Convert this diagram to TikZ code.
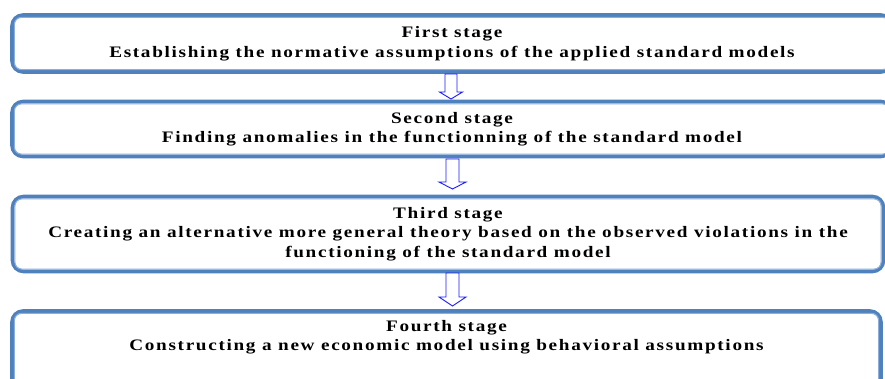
\documentclass[tikz,border=0pt]{standalone}
\usepackage{fontspec}
\setmainfont{Liberation Serif}[LetterSpace=10.5,FakeStretch=1.2]
\usetikzlibrary{calc}
\definecolor{boxblue}{HTML}{4F81BD}
\definecolor{boxlight}{HTML}{8DAEDB}
\definecolor{arrblue}{HTML}{1A1AFF}
\tikzset{
  stagebox/.style={draw=boxblue, line width=3.6pt, rounded corners=11pt, fill=white,
    align=center, font=\fontsize{16}{19.5}\selectfont\bfseries, inner sep=0pt},
  innerline/.style={draw=boxlight, line width=1.1pt, rounded corners=7pt},
  hollow/.style={draw=arrblue, line width=0.9pt, fill=white, line join=miter},
}
\newcommand\hollowarrow[6]{%
  \draw[hollow] ({#1-#4},#2) -- ({#1+#4},#2) -- ({#1+#4},{#3-#6}) -- ({#1+#5},{#3-#6})
    -- (#1,#3) -- ({#1-#5},{#3-#6}) -- ({#1-#4},{#3-#6}) -- cycle;}
\newcommand\innerframe[1]{%
  \draw[innerline] ($(#1.north west)+(4.2,4.2)$) rectangle ($(#1.south east)+(-4.2,-4.2)$);}
\begin{document}
\begin{tikzpicture}[x=1pt,y=-1pt]
\useasboundingbox (0,0) rectangle (885,378);
\fill[white] (0,0) rectangle (885,378);
% boxes
\node[stagebox, minimum width=880pt, minimum height=57pt] (b1) at (452,43.5)
  {First stage\\Establishing the normative assumptions of the applied standard models};
\innerframe{b1}
\node[stagebox, minimum width=880pt, minimum height=55pt] (b2) at (452,129)
  {Second stage\\Finding anomalies in the functionning of the standard model};
\innerframe{b2}
\node[stagebox, minimum width=871pt, minimum height=75pt] (b3) at (448,234)
  {Third stage\\Creating an alternative more general theory based on the observed violations in the\\functioning of the standard model};
\innerframe{b3}
\node[stagebox, minimum width=869pt, minimum height=80pt] (b4) at (446.5,351)
  {Fourth stage\\Constructing a new economic model using behavioral assumptions\\[12pt]};
\innerframe{b4}
% arrows
\hollowarrow{451}{74}{99}{6}{11.5}{7}
\hollowarrow{452.5}{159}{189}{6.5}{13.5}{7}
\hollowarrow{452.5}{273}{306}{6.5}{13.5}{9}
\end{tikzpicture}
\end{document}
